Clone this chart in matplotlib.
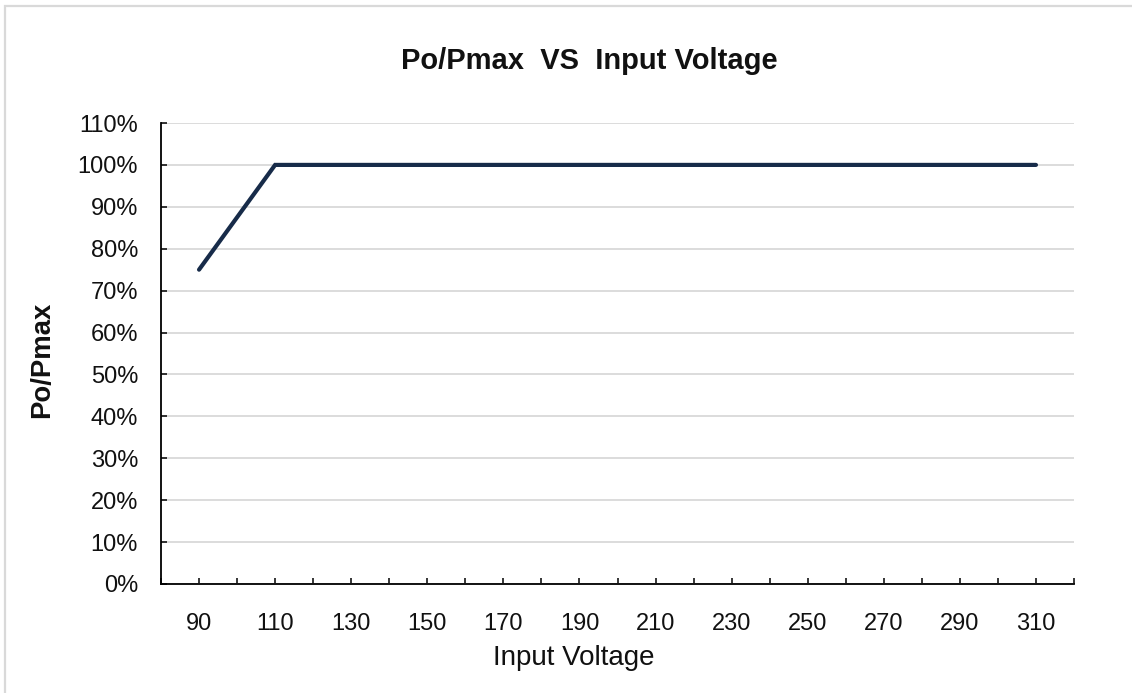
import matplotlib
matplotlib.use("Agg")
import matplotlib.pyplot as plt
from matplotlib.ticker import FuncFormatter, MultipleLocator, FixedLocator
from matplotlib.patches import Rectangle

plt.rcParams['font.family'] = ['Liberation Sans', 'DejaVu Sans']

# Data
input_voltage = [90, 110, 310]
po_pmax_pct = [75, 100, 100]
x_tick_labels = [90, 110, 130, 150, 170, 190, 210, 230, 250, 270, 290, 310]
title = "Po/Pmax  VS  Input Voltage"
x_label = "Input Voltage"
y_label = "Po/Pmax"

W, H = 1132, 693
fig = plt.figure(figsize=(W / 100, H / 100), dpi=100)
fig.patch.set_facecolor('white')

# outer light border (extends past right/bottom edges)
fig.patches.append(Rectangle((5 / W, -0.2), 1.5, 1.2 - 6 / H,
                             transform=fig.transFigure, fill=False,
                             edgecolor='#d9d9d9', linewidth=1.6, zorder=0))

left, right = 161 / W, 1074 / W
bottom, top = 1 - 584 / H, 1 - 123 / H
ax = fig.add_axes([left, bottom, right - left, top - bottom])

ax.plot(input_voltage, po_pmax_pct, color='#172B49', linewidth=3.0,
        solid_capstyle='round', solid_joinstyle='miter', zorder=3)

ax.set_xlim(80, 320)
ax.set_ylim(0, 110)
ax.yaxis.set_major_locator(MultipleLocator(10))
ax.yaxis.set_major_formatter(FuncFormatter(lambda v, p: f"{v:.0f}%"))
ax.xaxis.set_major_locator(FixedLocator(x_tick_labels))
ax.xaxis.set_minor_locator(FixedLocator(list(range(80, 321, 10))))
ax.set_xticklabels([str(v) for v in x_tick_labels])

ax.grid(axis='y', color='#d9d9d9', linewidth=1.3, zorder=0)
ax.set_axisbelow(True)
for s in ['top', 'right']:
    ax.spines[s].set_visible(False)
for s in ['left', 'bottom']:
    ax.spines[s].set_color('black')
    ax.spines[s].set_linewidth(1.3)

ax.tick_params(axis='x', which='both', direction='in', length=4.5, width=1.1,
               color='black', labelsize=17, pad=21, labelcolor='#111111')
ax.tick_params(axis='y', which='both', direction='in', length=4.5, width=1.1,
               color='black', labelsize=17, pad=16.5, labelcolor='#111111')

fig.text(589 / W, 1 - 61 / H, title, ha='center', va='center',
         fontsize=21, fontweight='bold', color='#111111')
fig.text(573.5 / W, 1 - 658 / H, x_label, ha='center', va='center',
         fontsize=20, color='#111111')
fig.text(42 / W, 1 - 360 / H, y_label, ha='center', va='center',
         rotation=90, fontsize=19.8, fontweight='bold', color='#111111')

fig.savefig('out.png', dpi=100)
